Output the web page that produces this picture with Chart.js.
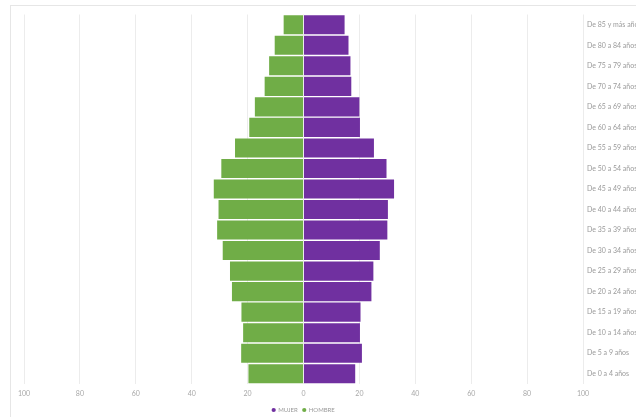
<!DOCTYPE html>
<html>
<head>
<meta charset="utf-8">
<script src="https://cdn.jsdelivr.net/npm/chart.js@4"></script>
<style>
  html, body { margin: 0; padding: 0; background: #fff; overflow: hidden; }
  #wrap { position: relative; width: 636px; height: 417px; }
  #frame { position: absolute; left: 10px; top: 5px; right: 0; bottom: 0;
           border-top: 1px solid #e6e6e6; border-left: 1px solid #e6e6e6; }
  canvas { position: absolute; left: 0; top: 0; }
</style>
</head>
<body>
<div id="wrap">
  <div id="frame"></div>
  <canvas id="c" width="636" height="417"></canvas>
</div>
<script>
const categories = ["De 85 y más años","De 80 a 84 años","De 75 a 79 años","De 70 a 74 años","De 65 a 69 años","De 60 a 64 años","De 55 a 59 años","De 50 a 54 años","De 45 a 49 años","De 40 a 44 años","De 35 a 39 años","De 30 a 34 años","De 25 a 29 años","De 20 a 24 años","De 15 a 19 años","De 10 a 14 años","De 5 a 9 años","De 0 a 4 años"];
const mujer  = [14.7,16.1,16.8,17.1,20.0,20.2,25.2,29.7,32.4,30.2,30.0,27.3,25.0,24.3,20.4,20.2,20.9,18.5];
const hombre = [7.1,10.3,12.3,13.9,17.4,19.4,24.5,29.4,32.1,30.4,30.9,28.9,26.3,25.6,22.2,21.6,22.3,19.7];
const xTicks = [-100,-80,-60,-40,-20,0,20,40,60,80,100];

const FONT = "Lato, 'Liberation Sans', sans-serif";

const centerLegend = {
  id: 'centerLegend',
  afterLayout(chart) {
    const lg = chart.legend;
    if (!lg) return;
    lg.left = chart.chartArea.left;
    lg.right = chart.chartArea.right;
    lg.width = lg.right - lg.left;
  }
};

new Chart(document.getElementById('c'), {
  type: 'bar',
  data: {
    labels: categories,
    datasets: [
      { label: 'MUJER', data: mujer, backgroundColor: '#7030A0', barPercentage: 0.93, categoryPercentage: 1.0 },
      { label: 'HOMBRE', data: hombre.map(v => -v), backgroundColor: '#70AD47', barPercentage: 0.93, categoryPercentage: 1.0 }
    ]
  },
  plugins: [centerLegend],
  options: {
    indexAxis: 'y',
    responsive: false,
    animation: false,
    layout: { padding: { left: 24, right: 0, top: 14.5, bottom: -6 } },
    scales: {
      x: {
        stacked: true,
        min: -100, max: 100,
        afterBuildTicks: (s) => { s.ticks = xTicks.map(v => ({ value: v })); },
        afterFit: (s) => { s.height = 18; },
        grid: { color: '#ececec', lineWidth: 1, drawTicks: false },
        border: { display: false },
        ticks: {
          callback: (v) => Math.abs(v),
          color: '#a8a8a8',
          font: { family: FONT, size: 7 },
          padding: 6,
          maxRotation: 0
        }
      },
      y: {
        stacked: true,
        position: 'right',
        afterFit: (s) => { s.width = 53; },
        grid: { display: false },
        border: { display: false },
        ticks: {
          color: '#9a9a9a',
          font: { family: FONT, size: 7 },
          padding: -4,
          autoSkip: false
        }
      }
    },
    plugins: {
      legend: {
        position: 'bottom',
        labels: {
          usePointStyle: true,
          pointStyle: 'circle',
          boxWidth: 3,
          boxHeight: 3,
          padding: 5,
          color: '#9a9a9a',
          font: { family: FONT, size: 6 }
        }
      },
      tooltip: { enabled: false }
    }
  }
});
</script>
</body>
</html>
